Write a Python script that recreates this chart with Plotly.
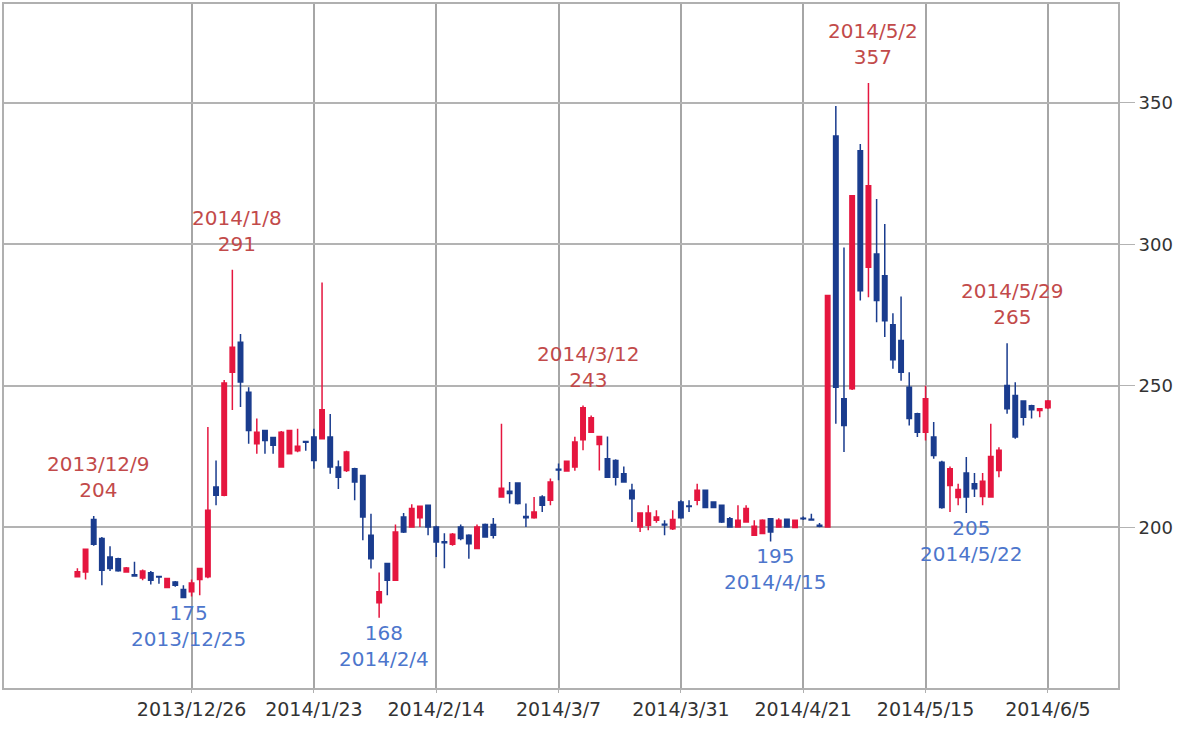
import plotly.graph_objects as go

# ---- data (trading days, 2013/12/5 .. 2014/6/5) ----
dates = [
    "2013/12/5", "2013/12/6", "2013/12/9", "2013/12/10", "2013/12/11", "2013/12/12", "2013/12/13",
    "2013/12/16", "2013/12/17", "2013/12/18", "2013/12/19", "2013/12/20", "2013/12/24", "2013/12/25",
    "2013/12/26", "2013/12/27", "2013/12/30", "2014/1/6", "2014/1/7", "2014/1/8", "2014/1/9",
    "2014/1/10", "2014/1/14", "2014/1/15", "2014/1/16", "2014/1/17", "2014/1/20", "2014/1/21",
    "2014/1/22", "2014/1/23", "2014/1/24", "2014/1/27", "2014/1/28", "2014/1/29", "2014/1/30",
    "2014/1/31", "2014/2/3", "2014/2/4", "2014/2/5", "2014/2/6", "2014/2/7", "2014/2/10",
    "2014/2/12", "2014/2/13", "2014/2/14", "2014/2/17", "2014/2/18", "2014/2/19", "2014/2/20",
    "2014/2/21", "2014/2/24", "2014/2/25", "2014/2/26", "2014/2/27", "2014/2/28", "2014/3/3",
    "2014/3/4", "2014/3/5", "2014/3/6", "2014/3/7", "2014/3/10", "2014/3/11", "2014/3/12",
    "2014/3/13", "2014/3/14", "2014/3/17", "2014/3/18", "2014/3/19", "2014/3/20", "2014/3/24",
    "2014/3/25", "2014/3/26", "2014/3/27", "2014/3/28", "2014/3/31", "2014/4/1", "2014/4/2",
    "2014/4/3", "2014/4/4", "2014/4/7", "2014/4/8", "2014/4/9", "2014/4/10", "2014/4/11",
    "2014/4/14", "2014/4/15", "2014/4/16", "2014/4/17", "2014/4/18", "2014/4/21", "2014/4/22",
    "2014/4/23", "2014/4/24", "2014/4/25", "2014/4/28", "2014/4/30", "2014/5/1", "2014/5/2",
    "2014/5/7", "2014/5/8", "2014/5/9", "2014/5/12", "2014/5/13", "2014/5/14", "2014/5/15",
    "2014/5/16", "2014/5/19", "2014/5/20", "2014/5/21", "2014/5/22", "2014/5/23", "2014/5/26",
    "2014/5/27", "2014/5/28", "2014/5/29", "2014/5/30", "2014/6/2", "2014/6/3", "2014/6/4",
    "2014/6/5",
]

opens = [
    182.5, 184.2, 202.7, 196.0, 189.5, 188.9, 184.2, 183.2, 182.1, 183.9, 182.6, 178.7, 180.7, 178.0,
    177.2, 181.5, 182.5, 214.2, 211.3, 254.8, 265.4, 247.7, 229.5, 234.2, 231.7, 221.3, 226.0, 227.0,
    230.3, 231.9, 231.3, 231.9, 221.3, 220.1, 220.7, 218.3, 197.2, 173.3, 187.2, 181.3, 203.6, 200.1,
    203.4, 207.8, 200.1, 194.9, 194.0, 200.1, 197.2, 192.5, 201.0, 201.0, 210.7, 212.7, 215.6, 203.8,
    203.4, 210.7, 209.5, 220.5, 219.9, 221.3, 230.9, 233.6, 229.2, 224.2, 223.6, 218.9, 213.1, 200.1,
    200.7, 202.5, 201.1, 199.5, 208.9, 207.5, 209.5, 213.1, 208.9, 207.8, 203.0, 200.1, 201.9, 197.2,
    197.8, 203.0, 200.1, 202.8, 199.9, 203.2, 202.8, 200.7, 200.1, 338.3, 245.4, 248.9, 333.0, 291.9,
    296.6, 288.9, 271.6, 266.0, 249.5, 240.1, 233.6, 231.9, 223.0, 214.8, 210.5, 219.2, 215.4, 210.9,
    210.7, 220.1, 250.1, 246.6, 244.6, 242.9, 241.3, 242.2,
]
highs = [
    185.5, 192.5, 204.0, 196.6, 193.3, 189.2, 186.0, 187.8, 185.1, 184.5, 182.8, 182.0, 181.0, 179.5,
    181.5, 185.6, 235.4, 223.6, 252.0, 291.0, 268.3, 249.5, 238.4, 234.5, 232.0, 234.0, 234.5, 234.8,
    230.5, 234.8, 286.5, 240.0, 223.6, 227.0, 221.0, 218.5, 204.8, 184.0, 187.2, 201.0, 205.0, 208.1,
    207.6, 208.0, 200.5, 197.9, 198.0, 201.0, 197.5, 201.0, 201.3, 203.3, 236.6, 216.0, 215.8, 208.4,
    210.7, 211.3, 217.2, 222.5, 223.5, 232.0, 243.0, 239.5, 232.3, 232.1, 224.0, 221.5, 215.4, 205.2,
    207.8, 206.0, 202.5, 206.0, 209.5, 209.5, 215.4, 213.3, 209.2, 208.0, 203.6, 207.8, 207.8, 202.5,
    202.8, 203.2, 203.2, 203.0, 202.7, 203.8, 204.8, 201.5, 282.0, 348.9, 298.9, 317.3, 335.4, 357.0,
    316.0, 307.2, 275.6, 281.5, 254.8, 240.5, 250.0, 237.2, 223.5, 221.5, 215.4, 224.8, 219.2, 219.2,
    236.6, 228.3, 265.0, 251.2, 244.8, 243.3, 242.0, 245.0,
]
lows = [
    182.3, 181.5, 193.5, 179.5, 184.5, 184.3, 183.9, 182.5, 181.3, 179.8, 180.0, 178.5, 179.0, 175.0,
    175.5, 176.0, 182.0, 207.8, 211.0, 241.4, 242.5, 229.5, 226.0, 226.0, 226.0, 221.0, 226.0, 226.5,
    227.0, 220.7, 231.0, 218.9, 213.5, 219.5, 209.5, 195.4, 185.4, 168.0, 176.0, 181.3, 198.0, 200.0,
    200.1, 197.2, 189.5, 185.5, 193.5, 195.4, 188.9, 192.5, 196.5, 196.0, 210.5, 208.4, 208.0, 200.1,
    203.0, 205.4, 207.8, 216.6, 219.8, 220.0, 227.2, 233.4, 220.1, 217.5, 214.8, 215.8, 201.9, 198.3,
    198.9, 201.6, 197.2, 199.0, 203.0, 205.4, 207.8, 206.8, 206.8, 201.5, 200.0, 200.0, 201.9, 197.0,
    197.5, 195.0, 200.0, 199.9, 199.8, 202.6, 202.4, 200.0, 200.0, 236.6, 226.6, 248.5, 280.1, 281.3,
    272.4, 267.2, 256.0, 251.8, 236.0, 231.9, 230.7, 224.2, 206.5, 205.4, 207.8, 205.0, 210.7, 207.8,
    210.5, 217.7, 240.1, 231.3, 236.0, 238.4, 238.9, 241.8,
]
closes = [
    184.3, 192.2, 194.0, 184.8, 185.4, 184.6, 185.6, 182.8, 184.5, 181.3, 182.4, 181.9, 179.5, 175.2,
    180.3, 185.4, 206.0, 211.3, 251.0, 263.6, 251.3, 234.2, 233.6, 230.7, 229.0, 233.6, 234.2, 228.6,
    230.0, 223.6, 241.5, 221.3, 217.7, 226.6, 216.0, 203.6, 188.9, 177.2, 181.3, 198.3, 198.3, 206.6,
    207.4, 200.1, 194.8, 194.5, 197.5, 196.0, 194.2, 200.1, 196.6, 197.2, 213.8, 211.9, 208.4, 203.4,
    205.4, 207.8, 216.0, 220.2, 223.3, 230.1, 242.2, 238.7, 232.1, 217.7, 217.7, 216.0, 210.1, 205.0,
    205.0, 203.6, 200.8, 202.7, 203.4, 207.3, 213.1, 207.0, 207.0, 201.9, 200.1, 202.5, 206.6, 200.4,
    202.5, 198.3, 202.5, 200.1, 202.5, 203.0, 202.6, 200.4, 281.9, 249.5, 236.0, 317.1, 283.6, 320.7,
    280.1, 273.0, 259.2, 254.8, 238.4, 233.6, 245.4, 225.4, 207.0, 220.7, 213.3, 210.7, 213.6, 216.3,
    225.0, 227.2, 241.9, 231.9, 238.9, 241.5, 241.9, 244.6,
]

tick_dates = ["2013/12/26", "2014/1/23", "2014/2/14", "2014/3/7",
              "2014/3/31", "2014/4/21", "2014/5/15", "2014/6/5"]
y_ticks = [200, 250, 300, 350]

high_marks = ["2013/12/9", "2014/1/8", "2014/3/12", "2014/5/2", "2014/5/29"]
low_marks = ["2013/12/25", "2014/2/4", "2014/4/15", "2014/5/22"]

RED = "#e5163f"
BLUE = "#1a3c8e"
RED_TXT = "#c24a4a"
BLUE_TXT = "#4d76cc"

xs = list(range(len(dates)))

fig = go.Figure(go.Candlestick(
    x=xs, open=opens, high=highs, low=lows, close=closes,
    increasing=dict(line=dict(color=RED, width=1.5), fillcolor=RED),
    decreasing=dict(line=dict(color=BLUE, width=1.5), fillcolor=BLUE),
    whiskerwidth=0, hoverinfo="skip",
))

annots = []
for d in high_marks:
    i = dates.index(d)
    annots.append(dict(x=i, y=highs[i], text=f"{d}<br>{round(highs[i])}",
                       showarrow=False, yanchor="bottom", xanchor="center",
                       yshift=12, xshift=5,
                       font=dict(family="DejaVu Sans", size=20, color=RED_TXT)))
for d in low_marks:
    i = dates.index(d)
    annots.append(dict(x=i, y=lows[i], text=f"{round(lows[i])}<br>{d}",
                       showarrow=False, yanchor="top", xanchor="center",
                       yshift=-1, xshift=5,
                       font=dict(family="DejaVu Sans", size=20, color=BLUE_TXT)))

fig.update_layout(
    width=1200, height=729,
    margin=dict(l=2, r=82, t=3, b=41),
    paper_bgcolor="white", plot_bgcolor="white",
    showlegend=False,
    boxgap=0.22,
    annotations=annots,
    font=dict(family="DejaVu Sans", size=18, color="#333333"),
    xaxis=dict(
        range=[-9.0, 127.6],
        tickmode="array",
        tickvals=[dates.index(d) for d in tick_dates],
        ticktext=tick_dates,
        showgrid=True, gridcolor="#a6a6a6", gridwidth=2,
        zeroline=False,
        showline=True, linecolor="#b0b0b0", linewidth=2, mirror=True,
        ticks="outside", ticklen=3, tickcolor="#b0b0b0",
        rangeslider=dict(visible=False),
        tickfont=dict(family="DejaVu Sans", size=19, color="#333333"),
    ),
    yaxis=dict(
        side="right",
        range=[143.2, 384.9],
        tickmode="array", tickvals=y_ticks,
        showgrid=True, gridcolor="#b3b3b3", gridwidth=1.5,
        zeroline=False,
        showline=True, linecolor="#b0b0b0", linewidth=2, mirror=True,
        ticks="outside", ticklen=15, tickcolor="#b3b3b3",
        tickfont=dict(family="DejaVu Sans", size=18, color="#333333"),
    ),
)

fig.write_html("out.html")
